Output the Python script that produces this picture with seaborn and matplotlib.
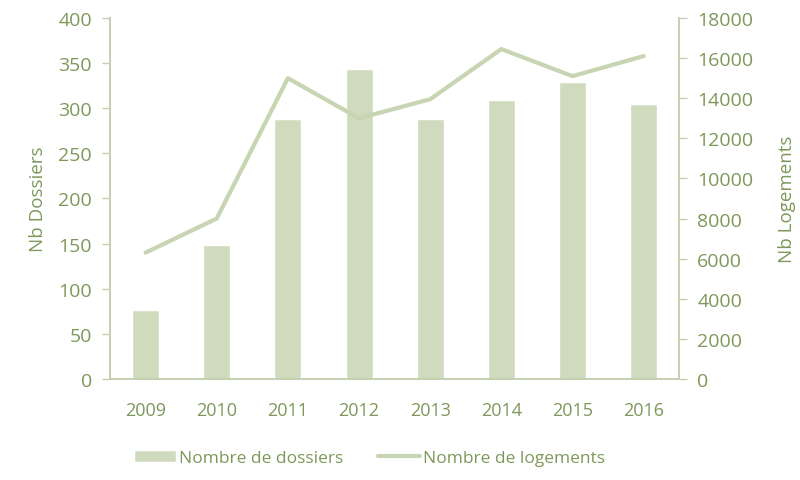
import numpy as np
import pandas as pd
import matplotlib
matplotlib.use("Agg")
import matplotlib.pyplot as plt
import seaborn as sns

years = ["2009", "2010", "2011", "2012", "2013", "2014", "2015", "2016"]
dossiers = [76, 149, 288, 344, 288, 309, 329, 305]
logements = [6300, 8000, 15000, 13000, 13950, 16450, 15100, 16100]

bar_color = "#d0dbbe"
line_color = "#c7d5b2"
text_color = "#7e985a"
axis_color = "#c4d0b0"

sns.set_theme(style="white")
plt.rcParams["font.family"] = ["Open Sans", "DejaVu Sans"]

df = pd.DataFrame({"annee": years, "dossiers": dossiers, "logements": logements})

fig = plt.figure(figsize=(8, 4.81), dpi=100)
ax = fig.add_axes([0.1375, 0.21, 0.7115, 0.7505])
ax2 = ax.twinx()

sns.barplot(data=df, x="annee", y="dossiers", color=bar_color, width=0.38,
            saturation=1, ax=ax, label="Nombre de dossiers")
sns.lineplot(x=np.arange(len(years)), y=df["logements"], color=line_color,
             linewidth=3, ax=ax2, label="Nombre de logements", legend=False)
if ax.get_legend() is not None:
    ax.get_legend().remove()

ax.set_xlim(-0.5, len(years) - 0.5)
ax.set_ylim(0, 400)
ax.set_yticks(range(0, 401, 50))
ax2.set_ylim(0, 18000)
ax2.set_yticks(range(0, 18001, 2000))

# ticks between categories, labels centred
ax.set_xticks(np.arange(len(years)))
ax.set_xticklabels(years)
ax.set_xticks(np.arange(-0.5, len(years)), minor=True)
ax.tick_params(axis="x", which="major", length=0, pad=16, labelsize=13, labelcolor=text_color)
ax.tick_params(axis="x", which="minor", length=6, width=1, color=axis_color, direction="out")
ax.tick_params(axis="y", length=6, width=1, color=axis_color, direction="out",
               left=True, labelsize=14, labelcolor=text_color, pad=7)
ax2.tick_params(axis="y", length=6, width=1, color=axis_color, direction="out",
                right=True, labelsize=14, labelcolor=text_color, pad=7)

ax.set_xlabel("")
ax.set_ylabel("Nb Dossiers", color=text_color, fontsize=13.5, labelpad=8)
ax2.set_ylabel("Nb Logements", color=text_color, fontsize=13.5, labelpad=18)

for a in (ax, ax2):
    a.spines["top"].set_visible(False)
    for s in ("left", "right", "bottom"):
        a.spines[s].set_color(axis_color)
        a.spines[s].set_linewidth(1.2)
    a.grid(False)

h1, l1 = ax.get_legend_handles_labels()
h2, l2 = ax2.get_legend_handles_labels()
leg = fig.legend(h1 + h2, l1 + l2, loc="center", bbox_to_anchor=(0.462, 0.046),
                 ncol=2, frameon=False, fontsize=12.5, handlelength=2.4,
                 handletextpad=0.2, columnspacing=2.0)
for t in leg.get_texts():
    t.set_color(text_color)

fig.savefig("out.png", dpi=100)
plt.close(fig)
